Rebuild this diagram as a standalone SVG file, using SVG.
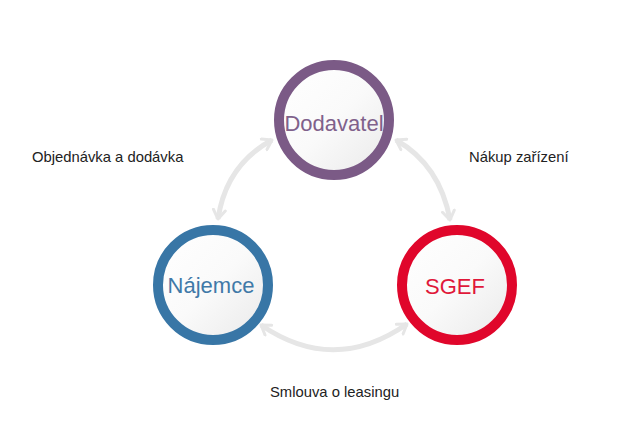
<svg xmlns="http://www.w3.org/2000/svg" width="639" height="446" viewBox="0 0 639 446">
<defs>
<linearGradient id="fill" x1="0" y1="0" x2="1" y2="1">
<stop offset="0" stop-color="#ffffff"/>
<stop offset="0.5" stop-color="#fafafa"/>
<stop offset="1" stop-color="#e9e9e9"/>
</linearGradient>
<marker id="ah" viewBox="0 0 10 10" refX="7" refY="5" markerWidth="3" markerHeight="3" orient="auto-start-reverse" markerUnits="strokeWidth">
<path d="M1,1 L7,5 L1,9" fill="none" stroke="#e6e6e6" stroke-width="2" stroke-linecap="round" stroke-linejoin="round"/>
</marker>
</defs>
<style>
.ring{fill:url(#fill);stroke-width:10}
.lbl{font-family:"Liberation Sans",Arial,sans-serif;font-size:22px;text-anchor:middle}
.edge{font-family:"Liberation Sans",Arial,sans-serif;font-size:14.8px;fill:#222}
.conn{fill:none;stroke:#e6e6e6;stroke-width:5;marker-start:url(#ah);marker-end:url(#ah)}
</style>
<rect width="639" height="446" fill="#ffffff"/>
<g id="connectors">
<path class="conn" d="M218,219 Q226,165 272,140"/>
<path class="conn" d="M396,140 Q440,165 450,220"/>
<path class="conn" d="M261,325 Q334,375 407,324"/>
</g>
<g id="node-dodavatel">
<circle class="ring" cx="334" cy="120" r="55" stroke="#7b5a86"/>
<text class="lbl" x="334" y="131" fill="#80618b">Dodavatel</text>
</g>
<g id="node-najemce">
<circle class="ring" cx="213" cy="285" r="55" stroke="#3876a6"/>
<text class="lbl" x="211" y="293" fill="#4079a8">Nájemce</text>
</g>
<g id="node-sgef">
<circle class="ring" cx="457" cy="285" r="55" stroke="#e0062b"/>
<text class="lbl" x="455" y="294" fill="#e0183a">SGEF</text>
</g>
<g id="labels">
<text class="edge" x="32" y="162">Objednávka a dodávka</text>
<text class="edge" x="469" y="162">Nákup zařízení</text>
<text class="edge" x="270" y="397">Smlouva o leasingu</text>
</g>
</svg>
